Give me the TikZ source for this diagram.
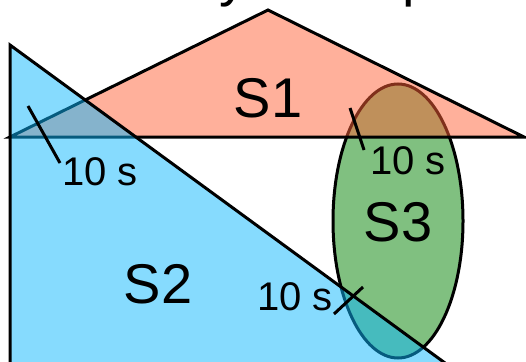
\documentclass[tikz,border=0pt]{standalone}
\usepackage{fontspec}
\setmainfont{Liberation Sans}
\definecolor{sone}{RGB}{255,97,55}
\definecolor{stwo}{RGB}{13,183,253}
\definecolor{sthree}{RGB}{128,192,128}
\begin{document}
\begin{tikzpicture}[x=1pt,y=-1pt, line width=3pt, line join=miter,
 region/.style={draw=black},
 biglbl/.style={font=\fontsize{56}{56}\selectfont, inner sep=0pt},
 timelbl/.style={font=\fontsize{40}{40}\selectfont, inner sep=0pt},
 ticklne/.style={draw=black, line width=3pt},
 titlefrag/.style={font=\fontsize{56}{56}\selectfont, inner sep=0pt, anchor=base west}]
\clip (0,0) rectangle (526,361);
% title fragments (cut off at the top)
\node[titlefrag] (ty) at (218,-4) {y};
\node[titlefrag] (tp) at (401,-4) {p};
% coordinates
\coordinate (s1top) at (268,10);
\coordinate (s1right) at (524,137);
\coordinate (s1left) at (10,137);
\coordinate (s2top) at (10,45);
\coordinate (s2bl) at (10,420);
\coordinate (s2br) at (523,420);
% S3 ellipse
\draw[region, fill=sthree] (398,221) ellipse [x radius=65, y radius=137];
% S1 triangle
\draw[region, fill=sone, fill opacity=0.5] (s1top) -- (s1right) -- (s1left) -- cycle;
% S2 triangle
\draw[region, fill=stwo, fill opacity=0.5] (s2top) -- (s2br) -- (s2bl) -- cycle;
% labels
\node[biglbl] (l1) at (268,98) {S1};
\node[biglbl] (l2) at (158,284) {S2};
\node[biglbl] (l3) at (398,222) {S3};
% time ticks
\coordinate (t1a) at (28,106);
\coordinate (t1b) at (60,163);
\coordinate (t2a) at (350,108);
\coordinate (t2b) at (364,150);
\coordinate (t3a) at (363,287);
\coordinate (t3b) at (334,314);
\draw[ticklne] (t1a) -- (t1b);
\draw[ticklne] (t2a) -- (t2b);
\draw[ticklne] (t3a) -- (t3b);
\node[timelbl] (d1) at (100,172) {10 s};
\node[timelbl] (d2) at (408,161) {10 s};
\node[timelbl] (d3) at (295,297) {10 s};
\end{tikzpicture}
\end{document}
